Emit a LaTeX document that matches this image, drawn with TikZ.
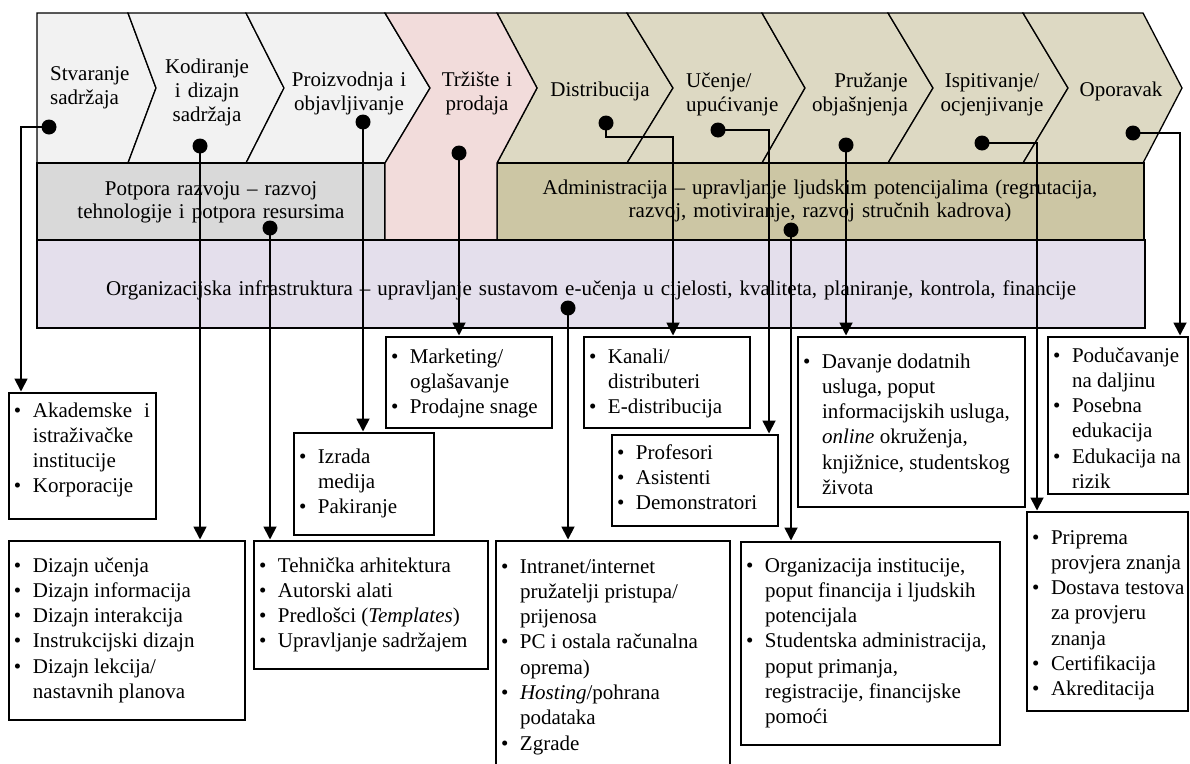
\documentclass[tikz,border=0pt]{standalone}
\usepackage{fontspec}
\setmainfont{Liberation Serif}
\usetikzlibrary{arrows.meta,calc}

\definecolor{chevlight}{HTML}{F2F2F2}
\definecolor{pinkfill}{HTML}{F2DCDB}
\definecolor{tanfill}{HTML}{DDD9C3}
\definecolor{supportfill}{HTML}{D9D9D9}
\definecolor{adminfill}{HTML}{CCC6A4}
\definecolor{orgfill}{HTML}{E4DFEC}

% bullet item and continuation line inside the list boxes
\newcommand\itm{\hspace*{5pt}\makebox[19pt][l]{\textbullet}}
\newcommand\cnt{\hspace*{24pt}}
% #1 width, #2 height, #3 first baseline below top, #4 lines
\newcommand\listtext[4]{\parbox[b][#2][t]{#1}{\fontsize{21}{25.3}\selectfont\rule{0pt}{#3}#4}}

\begin{document}
\begin{tikzpicture}[x=1pt,y=-1pt,
  chev/.style={draw=black, line width=1.3pt, line join=miter},
  band/.style={draw=black, line width=1.4pt},
  chevtext/.style={inner sep=0pt, font=\fontsize{21}{24}\selectfont, text width=150pt, align=center, anchor=base},
  bandtext/.style={inner sep=0pt, font=\fontsize{21}{23.5}\selectfont, align=center, anchor=base},
  listbox/.style={draw=black, line width=1.6pt, fill=white, inner sep=0pt, outer sep=0pt, anchor=north west},
  dot/.style={circle, fill=black, inner sep=0pt, minimum size=15pt},
  conn/.style={line width=1.8pt, -{Triangle[width=13pt,length=13pt]}, shorten >=1.5pt}]

\clip (0,0) rectangle (1190,763);
\fill[white] (0,0) rectangle (1190,763);

% ---- value chain: primary activities ----
\path[chev, fill=chevlight] (37,13) -- (128,13) -- (156,88) -- (128,163) -- (37,163) -- cycle;
\path[chev, fill=chevlight] (128,13) -- (246,13) -- (284,88) -- (246,163) -- (128,163) -- (156,88) -- cycle;
\path[chev, fill=chevlight] (246,13) -- (385,13) -- (430,88) -- (385,163) -- (246,163) -- (284,88) -- cycle;
\foreach \a/\ta/\b/\tb in {497/537/627/673, 627/673/762/805, 762/805/888/933, 888/933/1023/1068, 1023/1068/1143/1182}
  \path[chev, fill=tanfill] (\a,13) -- (\b,13) -- (\tb,88) -- (\b,163) -- (\a,163) -- (\ta,88) -- cycle;

% ---- support activities ----
\path[band, fill=supportfill] (37,163) rectangle (385,240);
\path[band, fill=adminfill] (497,163) rectangle (1144,240);
\path[chev, fill=pinkfill] (385,13) -- (497,13) -- (537,88) -- (497,163) -- (497,240) -- (385,240) -- (385,163) -- (430,88) -- cycle;
\path[band, fill=orgfill] (37,240) rectangle (1145,328);

% ---- labels ----
\node[chevtext, text width=100pt, align=left, anchor=base west] (t1) at (50,80) {Stvaranje\\sadržaja};
\node[chevtext] (t2) at (207,73) {Kodiranje\\i dizajn\\sadržaja};
\node[chevtext] (t3) at (349,86) {Proizvodnja i\\objavljivanje};
\node[chevtext] (t4) at (477,86) {Tržište i\\prodaja};
\node[chevtext] (t5) at (600,96) {Distribucija};
\node[chevtext, text width=120pt, align=left, anchor=base west] (t6) at (686,87) {Učenje/\\upućivanje};
\node[chevtext, text width=120pt, align=right, anchor=base east] (t7) at (908,87) {Pružanje\\objašnjenja};
\node[chevtext] (t8) at (992,87) {Ispitivanje/\\ocjenjivanje};
\node[chevtext] (t9) at (1121,96) {Oporavak};

\node[bandtext, text width=340pt] (support) at (211,195) {Potpora razvoju – razvoj\\tehnologije i potpora resursima};
\node[bandtext, text width=640pt] (admin) at (820,194) {Administracija – upravljanje ljudskim potencijalima (regrutacija,\\razvoj, motiviranje, razvoj stručnih kadrova)};
\node[bandtext, text width=1100pt] (org) at (591,295) {Organizacijska infrastruktura – upravljanje sustavom e-učenja u cijelosti, kvaliteta, planiranje, kontrola, financije};

% ---- activity boxes ----
\node[listbox] (A) at (9,393) {\listtext{147pt}{126pt}{24pt}{\itm\makebox[117pt][l]{Akademske\hfill i}\\
  \cnt istraživačke\\ \cnt institucije\\ \itm Korporacije}};
\node[listbox] (B) at (9,541) {\listtext{236pt}{179pt}{31pt}{\itm Dizajn učenja\\ \itm Dizajn informacija\\
  \itm Dizajn interakcija\\ \itm Instrukcijski dizajn\\ \itm Dizajn lekcija/\\ \cnt nastavnih planova}};
\node[listbox] (C) at (254,541) {\listtext{234pt}{128pt}{31pt}{\itm Tehnička arhitektura\\ \itm Autorski alati\\
  \itm Predlošci (\textit{Templates})\\ \itm Upravljanje sadržajem}};
\node[listbox] (D) at (294,433) {\listtext{140pt}{102pt}{30pt}{\itm Izrada\\ \cnt medija\\ \itm Pakiranje}};
\node[listbox] (E) at (386,337) {\listtext{166pt}{91pt}{26pt}{\itm Marketing/\\ \cnt oglašavanje\\ \itm Prodajne snage}};
\node[listbox] (F) at (496,541) {\listtext{234pt}{235pt}{32pt}{\itm Intranet/internet\\ \cnt pružatelji pristupa/\\
  \cnt prijenosa\\ \itm PC i ostala računalna\\ \cnt oprema)\\ \itm \textit{Hosting}/pohrana\\ \cnt podataka\\ \itm Zgrade}};
\node[listbox] (G) at (584,337) {\listtext{166pt}{91pt}{26pt}{\itm Kanali/\\ \cnt distributeri\\ \itm E-distribucija}};
\node[listbox] (H) at (612,435) {\listtext{166pt}{91pt}{24pt}{\itm Profesori\\ \itm Asistenti\\ \itm Demonstratori}};
\node[listbox] (I) at (741,542) {\listtext{259pt}{203pt}{30pt}{\itm Organizacija institucije,\\ \cnt poput financija i ljudskih\\
  \cnt potencijala\\ \itm Studentska administracija,\\ \cnt poput primanja,\\ \cnt registracije, financijske\\ \cnt pomoći}};
\node[listbox] (J) at (798,337) {\listtext{227pt}{170pt}{31pt}{\itm Davanje dodatnih\\ \cnt usluga, poput\\
  \cnt informacijskih usluga,\\ \cnt \textit{online} okruženja,\\ \cnt knjižnice, studentskog\\ \cnt života}};
\node[listbox] (K) at (1048,337) {\listtext{140pt}{157pt}{25pt}{\itm Podučavanje\\ \cnt na daljinu\\ \itm Posebna\\
  \cnt edukacija\\ \itm Edukacija na\\ \cnt rizik}};
\node[listbox] (L) at (1027,512) {\listtext{161pt}{199pt}{32pt}{\itm Priprema\\ \cnt provjera znanja\\ \itm Dostava testova\\
  \cnt za provjeru\\ \cnt znanja\\ \itm Certifikacija\\ \itm Akreditacija}};

% ---- link points ----
\node[dot] (d1) at (49,127) {};
\node[dot] (d2) at (200,146) {};
\node[dot] (d3) at (363,122) {};
\node[dot] (d4) at (270,228) {};
\node[dot] (d5) at (459,153) {};
\node[dot] (d6) at (606,123) {};
\node[dot] (d7) at (718,130) {};
\node[dot] (d8) at (846,145) {};
\node[dot] (d9) at (982,143) {};
\node[dot] (d10) at (1133,133) {};
\node[dot] (d11) at (791,230) {};
\node[dot] (d12) at (568,308) {};

% ---- connectors ----
\draw[conn] (d1.center) -| ($(A.north west)+(12,0)$);
\draw[conn] (d2.center) -- (d2.center |- B.north);
\draw[conn] (d3.center) -- (d3.center |- D.north);
\draw[conn] (d4.center) -- (d4.center |- C.north);
\draw[conn] (d5.center) -- (d5.center |- E.north);
\draw[conn] (d6.center) -- ++(0,14) -| ($(G.north west)+(89,0)$);
\draw[conn] (d7.center) -| ($(H.north west)+(157,0)$);
\draw[conn] (d8.center) -- (d8.center |- J.north);
\draw[conn] (d9.center) -| ($(L.north west)+(10,0)$);
\draw[conn] (d10.center) -| ($(K.north west)+(132,0)$);
\draw[conn] (d11.center) -- (d11.center |- I.north);
\draw[conn] (d12.center) -- (d12.center |- F.north);

\end{tikzpicture}
\end{document}
